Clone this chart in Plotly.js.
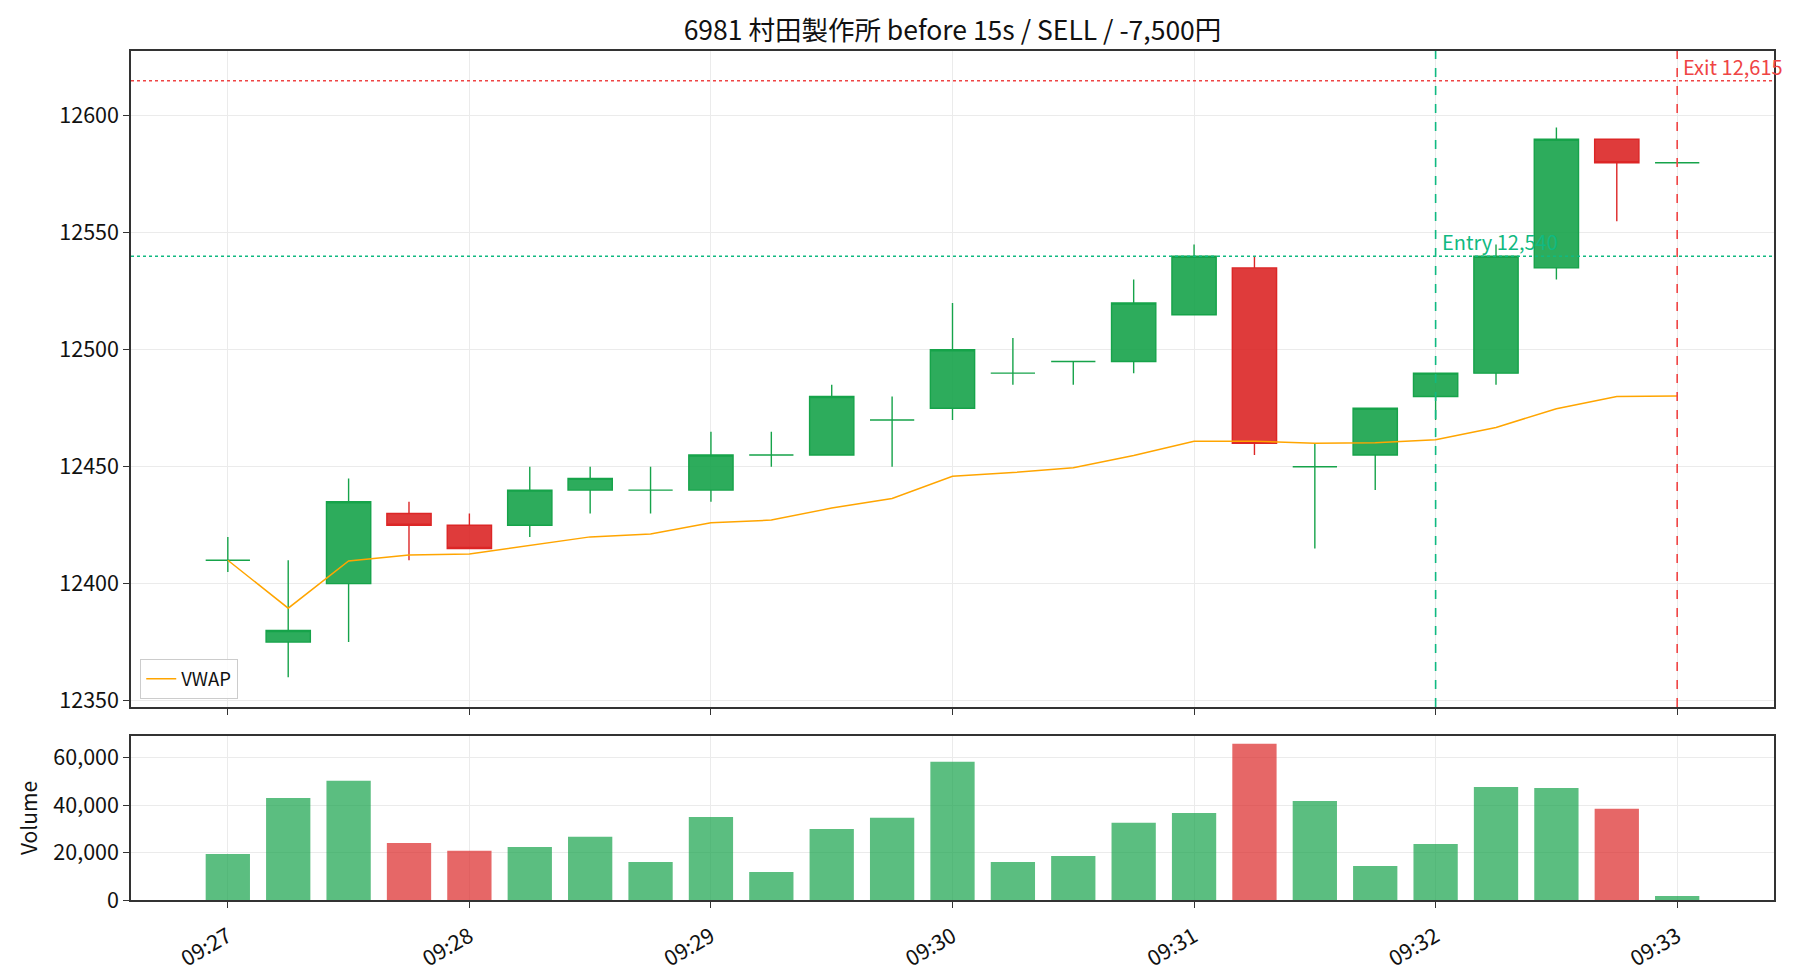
<!DOCTYPE html>
<html>
<head>
<meta charset="utf-8">
<script src="https://cdn.plot.ly/plotly-3.0.1.min.js"></script>
<style>body{margin:0;background:#fff}</style>
</head>
<body>
<div id="chart" style="width:1820px;height:980px"></div>
<script>
const day = '2024-06-03 ';
const times = ['09:27:00','09:27:15','09:27:30','09:27:45','09:28:00','09:28:15','09:28:30','09:28:45',
  '09:29:00','09:29:15','09:29:30','09:29:45','09:30:00','09:30:15','09:30:30','09:30:45',
  '09:31:00','09:31:15','09:31:30','09:31:45','09:32:00','09:32:15','09:32:30','09:32:45','09:33:00'];
const opens  = [12410,12375,12400,12430,12425,12425,12440,12440,12440,12455,12455,12470,12475,12490,12495,12495,12515,12535,12450,12455,12480,12490,12535,12590,12580];
const highs  = [12420,12410,12445,12435,12430,12450,12450,12450,12465,12465,12485,12480,12520,12505,12495,12530,12545,12540,12460,12475,12490,12545,12595,12590,12580];
const lows   = [12405,12360,12375,12410,12415,12420,12430,12430,12435,12450,12455,12450,12470,12485,12485,12490,12515,12455,12415,12440,12470,12485,12530,12555,12580];
const closes = [12410,12380,12435,12425,12415,12440,12445,12440,12455,12455,12480,12470,12500,12490,12495,12520,12540,12460,12450,12475,12490,12540,12590,12580,12580];
const vwap   = [12410,12389.5,12409.7,12412.3,12412.7,12416.4,12420,12421.2,12426,12427.2,12432.3,12436.4,12445.9,12447.5,12449.6,12454.8,12460.9,12460.9,12460,12460.3,12461.5,12466.8,12474.8,12480,12480.2];
const volumes = [19400,43000,50200,24000,20700,22300,26600,16000,35000,11800,29900,34600,58200,16000,18500,32500,36700,65800,41700,14300,23600,47600,47200,38400,1700];

const entryTime = '09:32:00', entryPrice = 12540;
const exitTime = '09:33:00', exitPrice = 12615;
const titleText = '6981 村田製作所 before 15s / SELL / -7,500円';

const GREEN = '#16a34a', GREEN_FILL = 'rgba(22,163,74,0.9)', GREEN_VOL = 'rgba(22,163,74,0.7)';
const RED = '#dc2626', RED_FILL = 'rgba(220,38,38,0.9)', RED_VOL = 'rgba(220,38,38,0.7)';
const TEAL = '#10b981', EXITRED = '#ef4444';

const xs = times.map(t => day + t);
const up = closes.map((c, i) => c >= opens[i]);

function pick(arr, want) { return arr.filter((_, i) => up[i] === want); }

function candle(want, lineColor, fill) {
  const side = {line: {color: lineColor, width: 1.4}, fillcolor: fill};
  return {
    type: 'candlestick', xaxis: 'x', yaxis: 'y',
    x: pick(xs, want), open: pick(opens, want), high: pick(highs, want),
    low: pick(lows, want), close: pick(closes, want),
    increasing: side, decreasing: side, whiskerwidth: 0,
    showlegend: false, hoverinfo: 'skip'
  };
}

const traces = [
  candle(true, GREEN, GREEN_FILL),
  candle(false, RED, RED_FILL),
  {type: 'scatter', mode: 'lines', x: xs, y: vwap, xaxis: 'x', yaxis: 'y',
   line: {color: '#FFA500', width: 1.5}, name: 'VWAP'},
  {type: 'bar', x: xs, y: volumes, xaxis: 'x2', yaxis: 'y2', width: 11000,
   marker: {color: up.map(u => u ? GREEN_VOL : RED_VOL), line: {width: 0}},
   showlegend: false, hoverinfo: 'skip'}
];

const axisCommon = {
  showline: true, mirror: true, linecolor: '#333', linewidth: 1.5,
  ticks: 'outside', ticklen: 6, tickcolor: '#333', tickwidth: 1.4,
  showgrid: true, gridcolor: '#ebebeb', gridwidth: 1.2, zeroline: false,
  tickfont: {size: 21.5, color: '#111'}
};
const xRange = [day + '09:26:35.95', day + '09:33:24.05'];

const layout = {
  width: 1820, height: 980,
  margin: {l: 131, r: 46, t: 51, b: 80},
  paper_bgcolor: '#fff', plot_bgcolor: '#fff',
  font: {family: '"Noto Sans CJK JP", "Noto Sans", sans-serif', size: 21, color: '#111'},
  title: {text: titleText, x: 0.5, xref: 'paper', xanchor: 'center',
          y: 1 - 31 / 980, yref: 'container', yanchor: 'middle', font: {size: 26.5, color: '#111'}},
  boxgap: 0.267, boxgroupgap: 0, boxmode: 'overlay',
  showlegend: true,
  legend: {x: 0.0055, y: 0.2367, xanchor: 'left', yanchor: 'bottom',
           bgcolor: 'rgba(255,255,255,0.85)', bordercolor: '#cccccc', borderwidth: 1.2,
           font: {size: 18.5}, itemwidth: 30, tracegroupgap: 0},
  xaxis: Object.assign({}, axisCommon, {
    domain: [0, 1], anchor: 'y', type: 'date', range: xRange,
    tick0: day + '09:27:00', dtick: 60000, showticklabels: false,
    rangeslider: {visible: false}
  }),
  yaxis: Object.assign({}, axisCommon, {
    domain: [0.2273, 1], anchor: 'x', range: [12347.25, 12627.75],
    tick0: 12350, dtick: 50, tickformat: 'd'
  }),
  xaxis2: Object.assign({}, axisCommon, {
    domain: [0, 1], anchor: 'y2', type: 'date', range: xRange, matches: 'x',
    tick0: day + '09:27:00', dtick: 60000, tickformat: '%H:%M', tickangle: -30,
    ticklabelstandoff: 8
  }),
  yaxis2: Object.assign({}, axisCommon, {
    domain: [0, 0.1932], anchor: 'x2', range: [0, 69100],
    tick0: 0, dtick: 20000, tickformat: ',d',
    title: {text: 'Volume', font: {size: 21, color: '#111'}, standoff: 10}
  }),
  shapes: [
    {type: 'line', xref: 'x domain', x0: 0, x1: 1, yref: 'y', y0: entryPrice, y1: entryPrice,
     line: {color: TEAL, width: 1.4, dash: 'dot'}},
    {type: 'line', xref: 'x domain', x0: 0, x1: 1, yref: 'y', y0: exitPrice, y1: exitPrice,
     line: {color: EXITRED, width: 1.4, dash: 'dot'}},
    {type: 'line', xref: 'x', x0: day + entryTime, x1: day + entryTime, yref: 'y domain', y0: 0, y1: 1,
     line: {color: TEAL, width: 1.6, dash: 'dash'}},
    {type: 'line', xref: 'x', x0: day + exitTime, x1: day + exitTime, yref: 'y domain', y0: 0, y1: 1,
     line: {color: EXITRED, width: 1.6, dash: 'dash'}}
  ],
  annotations: [
    {xref: 'x', yref: 'y', x: day + entryTime, y: entryPrice, xanchor: 'left', yanchor: 'bottom',
     xshift: 4, yshift: -2, showarrow: false, text: 'Entry ' + entryPrice.toLocaleString('en-US'),
     font: {size: 20, color: TEAL}},
    {xref: 'x', yref: 'y', x: day + exitTime, y: exitPrice, xanchor: 'left', yanchor: 'bottom',
     xshift: 4, yshift: -2, showarrow: false, text: 'Exit ' + exitPrice.toLocaleString('en-US'),
     font: {size: 20, color: EXITRED}}
  ]
};

Plotly.newPlot('chart', traces, layout, {displayModeBar: false, responsive: false});
</script>
</body>
</html>
